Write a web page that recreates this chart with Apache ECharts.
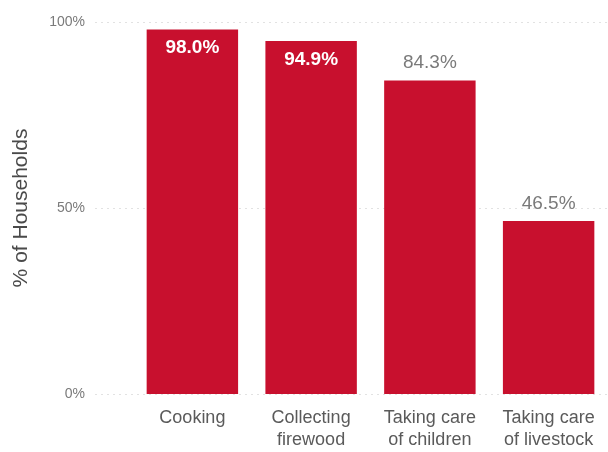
<!DOCTYPE html>
<html>
<head>
<meta charset="utf-8">
<script src="https://cdn.jsdelivr.net/npm/echarts@6/dist/echarts.min.js"></script>
<style>
  html, body { margin: 0; padding: 0; background: #ffffff; }
  #chart { width: 608px; height: 452px; }
</style>
</head>
<body>
<div id="chart"></div>
<script>
// Share of households where each task is done by women
const categories = ['Cooking', 'Collecting\nfirewood', 'Taking care\nof children', 'Taking care\nof livestock'];
const shares = [98.0, 94.9, 84.3, 46.5];
const yTicks = [0, 50, 100];
// Bars tall enough to hold their label inside get a white label at the top
const insideThreshold = 90;

const FONT = '"Liberation Sans", Arial, sans-serif';
const BAR = '#c8102e';

const chart = echarts.init(document.getElementById('chart'), null, { renderer: 'canvas' });

chart.setOption({
  animation: false,
  backgroundColor: '#ffffff',
  grid: [
    // value axis with its dotted reference lines
    { left: 95, top: 22, width: 516, height: 372, containLabel: false },
    // bars
    { left: 133, top: 22, width: 478, height: 372, containLabel: false }
  ],
  xAxis: [
    { gridIndex: 0, type: 'value', show: false, min: 0, max: 1 },
    {
      gridIndex: 1,
      type: 'category',
      data: categories,
      axisLine: { show: false },
      axisTick: { show: false },
      axisLabel: {
        color: '#5a5a5a',
        fontFamily: FONT,
        fontSize: 18,
        lineHeight: 22,
        margin: 13,
        interval: 0
      }
    }
  ],
  yAxis: [
    {
      gridIndex: 0,
      type: 'value',
      min: yTicks[0],
      max: yTicks[yTicks.length - 1],
      interval: yTicks[1] - yTicks[0],
      name: '% of Households',
      nameLocation: 'middle',
      nameGap: 63,
      nameRotate: 90,
      nameTextStyle: { color: '#4a4a4a', fontFamily: FONT, fontSize: 21 },
      axisLine: { show: false },
      axisTick: { show: false },
      axisLabel: {
        color: '#7a7a7a',
        fontFamily: FONT,
        fontSize: 14,
        margin: 10,
        formatter: v => v + '%'
      },
      splitLine: {
        show: true,
        lineStyle: { color: '#e2e2e2', type: [2, 4], width: 1 }
      }
    },
    {
      gridIndex: 1,
      type: 'value',
      min: yTicks[0],
      max: yTicks[yTicks.length - 1],
      show: false,
      splitLine: { show: false }
    }
  ],
  series: [
    {
      type: 'bar',
      xAxisIndex: 1,
      yAxisIndex: 1,
      barCategoryGap: '23%',
      itemStyle: { color: BAR },
      data: shares.map(v => ({
        value: v,
        label: v >= insideThreshold
          ? { position: 'insideTop', distance: 9, color: '#ffffff', fontWeight: 'bold' }
          : { position: 'top', distance: 8, color: '#7a7a7a', fontWeight: 'normal' }
      })),
      label: {
        show: true,
        fontFamily: FONT,
        fontSize: 19,
        formatter: p => p.value.toFixed(1) + '%'
      }
    }
  ]
});
</script>
</body>
</html>
